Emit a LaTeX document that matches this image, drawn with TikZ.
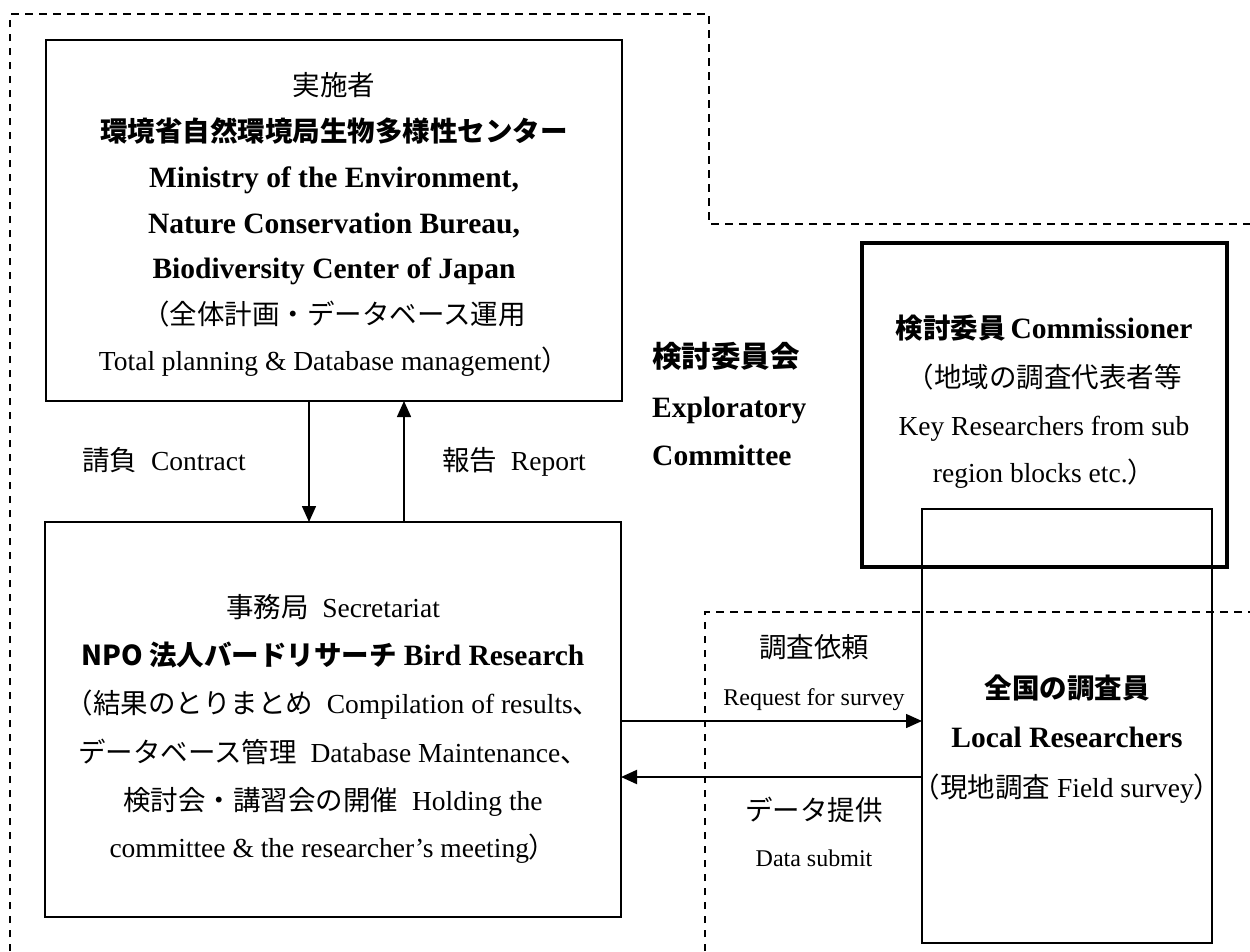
\documentclass[tikz,border=0pt]{standalone}
\usepackage{fontspec}
\setmainfont{Liberation Serif}
\newfontfamily\jp{Noto Sans CJK JP}
\usetikzlibrary{arrows.meta}
\begin{document}
\begin{tikzpicture}[x=1pt,y=-1pt,
  box/.style={draw, line width=2pt, outer sep=0pt, inner sep=0pt},
  thickbox/.style={draw, line width=3.5pt, outer sep=0pt, inner sep=0pt},
  thinbox/.style={draw, line width=1.5pt, outer sep=0pt, inner sep=0pt},
  dashline/.style={line width=1.3pt, dash pattern=on 7.5pt off 6.5pt},
  arr/.style={line width=1.5pt, -{Triangle[length=16pt,width=14pt]}},
  txt/.style={anchor=base, inner sep=0pt, font=\fontsize{27.5}{32}\selectfont},
  ltxt/.style={anchor=base west, inner sep=0pt, font=\fontsize{29.5}{32}\selectfont\bfseries},
  stxt/.style={anchor=base, inner sep=0pt, font=\fontsize{24}{28}\selectfont},
  jtxt/.style={anchor=base, inner sep=0pt, font=\fontsize{27.5}{32}\selectfont\jp},
  btxt/.style={anchor=base, inner sep=0pt, font=\fontsize{29.5}{32}\selectfont\bfseries}
]
\useasboundingbox (0,0) rectangle (1250,951);
% dashed group outlines
\draw[dashline] (10,951) -- (10,14) -- (709,14) -- (709,224) -- (1250,224);
\draw[dashline] (705,951) -- (705,612) -- (1250,612);
% boxes
\node[box, minimum width=576pt, minimum height=361pt] (top) at (334,220.5) {};
\node[box, minimum width=576pt, minimum height=395pt] (bot) at (333,719.5) {};
\node[thickbox, minimum width=365pt, minimum height=324pt] (com) at (1044.5,405) {};
\node[thinbox, minimum width=290pt, minimum height=434pt] (loc) at (1067,726) {};
% connectors
\coordinate (dx) at (309,0);
\coordinate (ux) at (404,0);
\coordinate (ry) at (0,721);
\coordinate (ly) at (0,777);
\draw[arr] (top.south -| dx) -- (bot.north -| dx);
\draw[arr] (bot.north -| ux) -- (top.south -| ux);
\draw[arr] (bot.east |- ry) -- (loc.west |- ry);
\draw[arr, line width=2pt] (loc.west |- ly) -- (bot.east |- ly);
% top box text
\node[jtxt] (t1) at (334,95) {実施者};
\node[txt] (t2) at (334,141) {\jp\bfseries 環境省自然環境局生物多様性センター};
\node[btxt] (t3) at (334,187) {Ministry of the Environment,};
\node[btxt] (t4) at (334,233) {Nature Conservation Bureau,};
\node[btxt] (t5) at (334,278) {Biodiversity Center of Japan};
\node[jtxt] (t6) at (334,324) {（全体計画・データベース運用};
\node[txt] (t7) at (334,370) {Total planning \& Database management{\jp ）}};
% contract / report
\node[txt] (c1) at (164,470) {{\jp 請負}\ \ Contract};
\node[txt] (r1) at (514,470) {{\jp 報告}\ \ Report};
% exploratory committee
\node[ltxt] (e1) at (652,367) {\jp 検討委員会};
\node[ltxt] (e2) at (652,417) {Exploratory};
\node[ltxt] (e3) at (652,465) {Committee};
% commissioner
\node[txt] (k1) at (1044,338) {{\jp\bfseries 検討委員}{\fontsize{29.5}{32}\selectfont\bfseries\,Commissioner}};
\node[jtxt] (k2) at (1044,387) {（地域の調査代表者等};
\node[txt] (k3) at (1044,435) {Key Researchers from sub};
\node[txt] (k4) at (1044,482) {region blocks etc.{\jp ）}};
% local researchers
\node[txt] (l1) at (1067,698) {\jp\bfseries 全国の調査員};
\node[btxt] (l2) at (1067,747) {Local Researchers};
\node[txt] (l3) at (1067,797) {{\jp （現地調査}\ Field survey{\jp ）}};
% arrow labels
\node[jtxt] (a1) at (814,657) {調査依頼};
\node[stxt] (a2) at (814,705) {Request for survey};
\node[jtxt] (a3) at (814,820) {データ提供};
\node[stxt] (a4) at (814,866) {Data submit};
% secretariat text
\node[txt] (s1) at (333,617) {{\jp 事務局}\ \ Secretariat};
\node[txt] (s2) at (333,665) {{\jp\bfseries NPO 法人バードリサーチ}\ {\fontsize{29.5}{32}\selectfont\bfseries Bird Research}};
\node[txt] (s3) at (333,713) {{\jp （結果のとりまとめ}\ \ Compilation of results{\jp 、}};
\node[txt] (s4) at (333,762) {{\jp データベース管理}\ \ Database Maintenance{\jp 、}};
\node[txt] (s5) at (333,810) {{\jp 検討会・講習会の開催}\ \ Holding the};
\node[txt] (s6) at (333,857) {committee \& the researcher’s meeting{\jp ）}};
\end{tikzpicture}
\end{document}
